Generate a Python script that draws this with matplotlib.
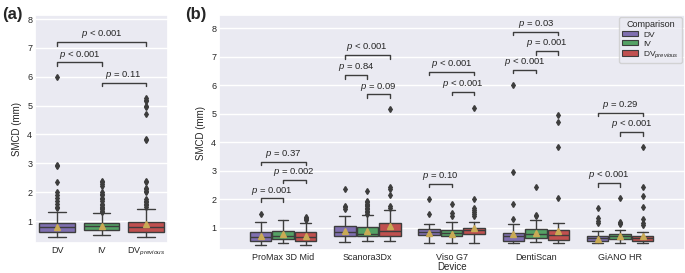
import matplotlib
matplotlib.use('Agg')
import matplotlib.pyplot as plt
import matplotlib.patches as mpatches
import seaborn as sns

sns.set_theme(style='darkgrid')
plt.rcParams['font.family'] = ['Liberation Sans', 'DejaVu Sans']
plt.rcParams['mathtext.fontset'] = 'custom'
plt.rcParams['mathtext.rm'] = 'Liberation Sans'
plt.rcParams['mathtext.it'] = 'Liberation Sans:italic'

# ---- data ----
comparisons = ['DV', 'IV', 'DV$_{previous}$']
colors = ['#7f6fb0', '#55a265', '#c0504f']

# panel (a): pooled over all devices
a_q1 = [0.62, 0.68, 0.62]
a_med = [0.78, 0.82, 0.78]
a_q3 = [0.92, 0.93, 0.98]
a_lo = [0.45, 0.50, 0.45]
a_hi = [1.31, 1.27, 1.43]
a_mean = [0.80, 0.83, 0.90]
a_fliers = [
    [6.0, 2.95, 2.9, 2.35, 2.0, 1.9, 1.8, 1.7, 1.6, 1.5, 1.45],
    [2.4, 2.35, 2.3, 2.2, 2.0, 1.95, 1.9, 1.8, 1.75, 1.7, 1.6, 1.55, 1.5, 1.45, 1.4, 1.35, 1.3],
    [5.25, 5.2, 5.15, 5.0, 4.95, 4.7, 3.85, 3.8, 2.4, 2.35, 2.15, 2.1, 2.05, 2.0,
     1.75, 1.7, 1.65, 1.6, 1.55, 1.5],
]
a_pairs = [(0, 2), (0, 1), (1, 2)]
a_pair_y = [7.2, 6.5, 5.8]
a_pair_txt = ['$p$ < 0.001', '$p$ < 0.001', '$p$ = 0.11']

# panel (b): per device, rows = DV, IV, DV_previous
devices = ['ProMax 3D Mid', 'Scanora3Dx', 'Viso G7', 'DentiScan', 'GiANO HR']
b_q1 = [[0.54, 0.70, 0.76, 0.55, 0.55],
        [0.61, 0.72, 0.70, 0.65, 0.61],
        [0.54, 0.72, 0.77, 0.58, 0.53]]
b_med = [[0.69, 0.86, 0.86, 0.72, 0.65],
         [0.72, 0.80, 0.82, 0.80, 0.70],
         [0.69, 0.88, 0.92, 0.74, 0.64]]
b_q3 = [[0.86, 1.05, 0.95, 0.83, 0.71],
        [0.90, 1.04, 0.92, 0.96, 0.80],
        [0.84, 1.16, 1.01, 0.92, 0.71]]
b_lo = [[0.40, 0.52, 0.46, 0.46, 0.46],
        [0.47, 0.54, 0.47, 0.52, 0.47],
        [0.40, 0.54, 0.48, 0.48, 0.46]]
b_hi = [[1.20, 1.43, 1.14, 1.12, 0.89],
        [1.28, 1.45, 1.22, 1.26, 0.94],
        [1.16, 1.63, 1.22, 1.16, 0.86]]
b_mean = [[0.73, 0.90, 0.82, 0.78, 0.62],
          [0.77, 0.90, 0.80, 0.82, 0.72],
          [0.73, 1.05, 0.98, 0.88, 0.70]]
b_fliers = [
    [[1.48], [2.35, 1.78, 1.72, 1.66], [2.0, 1.5], [6.0, 2.95, 1.85, 1.3],
     [1.68, 1.34, 1.25, 1.18]],
    [[], [2.3, 1.95, 1.9, 1.85, 1.8, 1.75, 1.7, 1.65, 1.6, 1.55, 1.5],
     [1.82, 1.52, 1.42], [2.42, 1.46, 1.4], [2.04, 1.22, 1.16, 1.12]],
    [[1.38, 1.34, 1.3, 1.27], [5.17, 2.42, 2.38, 2.15, 1.75, 1.7],
     [5.22, 2.0, 1.7, 1.62, 1.55, 1.48, 1.42], [4.95, 4.7, 3.82, 2.03],
     [3.82, 2.42, 2.11, 1.72, 1.3, 1.18, 1.1]],
]
# brackets per device: (box i, box j, height, text)
b_pairs = [
    [(0, 2, 3.32, '$p$ = 0.37'), (1, 2, 2.68, '$p$ = 0.002'), (0, 1, 2.03, '$p$ = 0.001')],
    [(0, 2, 7.06, '$p$ < 0.001'), (0, 1, 6.36, '$p$ = 0.84'), (1, 2, 5.69, '$p$ = 0.09')],
    [(0, 2, 6.48, '$p$ < 0.001'), (1, 2, 5.78, '$p$ < 0.001'), (0, 1, 2.54, '$p$ = 0.10')],
    [(0, 2, 7.88, '$p$ = 0.03'), (1, 2, 7.20, '$p$ = 0.001'), (0, 1, 6.54, '$p$ < 0.001')],
    [(0, 2, 5.04, '$p$ = 0.29'), (1, 2, 4.36, '$p$ < 0.001'), (0, 1, 2.57, '$p$ < 0.001')],
]

line_c = '#3d3d3d'
mean_c = '#c9aa55'
fs = 6.5


def draw_boxes(ax, stats, positions, widths, cols):
    bp = ax.bxp(stats, positions=positions, widths=widths, capwidths=[w * 0.5 for w in widths],
                patch_artist=True, showmeans=True, manage_ticks=False,
                boxprops=dict(edgecolor=line_c, linewidth=1),
                medianprops=dict(color=line_c, linewidth=1),
                whiskerprops=dict(color=line_c, linewidth=1),
                capprops=dict(color=line_c, linewidth=1),
                flierprops=dict(marker='d', markersize=3, markerfacecolor=line_c,
                                markeredgecolor=line_c),
                meanprops=dict(marker='^', markersize=5, markerfacecolor=mean_c,
                               markeredgecolor=mean_c))
    for patch, c in zip(bp['boxes'], cols):
        patch.set_facecolor(c)


def bracket(ax, x1, x2, y, text, h=0.12):
    ax.plot([x1, x1, x2, x2], [y - h, y, y, y - h], color=line_c, lw=1)
    ax.text((x1 + x2) / 2, y + 0.06, text, ha='center', va='bottom', fontsize=6.8,
            color='#262626')


fig = plt.figure(figsize=(6.85, 2.73), dpi=100)
ax_a = fig.add_axes([0.0511, 0.110, 0.1942, 0.835])
ax_b = fig.add_axes([0.3197, 0.084, 0.6803, 0.861])

# panel (a)
stats_a = [dict(q1=a_q1[i], med=a_med[i], q3=a_q3[i], whislo=a_lo[i], whishi=a_hi[i],
                mean=a_mean[i], fliers=a_fliers[i]) for i in range(3)]
draw_boxes(ax_a, stats_a, [0, 1, 2], [0.8] * 3, colors)
for (i, j), y, t in zip(a_pairs, a_pair_y, a_pair_txt):
    bracket(ax_a, i, j, y, t)
ax_a.set_xlim(-0.5, 2.5)
ax_a.set_ylim(0.24, 8.14)
ax_a.set_xticks([0, 1, 2])
ax_a.set_xticklabels(comparisons)
ax_a.set_ylabel('SMCD (mm)', fontsize=fs + 0.5)

# panel (b)
offs = [-0.267, 0.0, 0.267]
for k in range(3):
    stats_b = [dict(q1=b_q1[k][d], med=b_med[k][d], q3=b_q3[k][d], whislo=b_lo[k][d],
                    whishi=b_hi[k][d], mean=b_mean[k][d], fliers=b_fliers[k][d])
               for d in range(len(devices))]
    draw_boxes(ax_b, stats_b, [d + offs[k] for d in range(len(devices))],
               [0.255] * len(devices), [colors[k]] * len(devices))
for d, pairs in enumerate(b_pairs):
    for i, j, y, t in pairs:
        bracket(ax_b, d + offs[i], d + offs[j], y, t)
ax_b.set_xlim(-0.76, 4.77)
ax_b.set_ylim(0.22, 8.47)
ax_b.set_xticks(range(len(devices)))
ax_b.set_xticklabels(devices)
ax_b.set_xlabel('Device', fontsize=fs + 0.5, labelpad=0)
ax_b.set_ylabel('SMCD (mm)', fontsize=fs + 0.5)

handles = [mpatches.Patch(facecolor=c, edgecolor=line_c, linewidth=0.8, label=l)
           for c, l in zip(colors, comparisons)]
leg = ax_b.legend(handles=handles, title='Comparison', loc='upper right',
                  bbox_to_anchor=(0.993, 0.99), borderaxespad=0, fontsize=6,
                  title_fontsize=6.5, handlelength=1.9, handleheight=0.6,
                  labelspacing=0.2, borderpad=0.35, handletextpad=0.6)

for ax in (ax_a, ax_b):
    ax.xaxis.grid(False)
    ax.tick_params(axis='both', labelsize=fs, pad=2, length=0)
    ax.set_yticks(range(1, 9))

fig.text(0.003, 0.975, '(a)', fontsize=12, fontweight='bold', va='top', ha='left')
fig.text(0.270, 0.975, '(b)', fontsize=12, fontweight='bold', va='top', ha='left')

fig.savefig('out.png', dpi=100)
